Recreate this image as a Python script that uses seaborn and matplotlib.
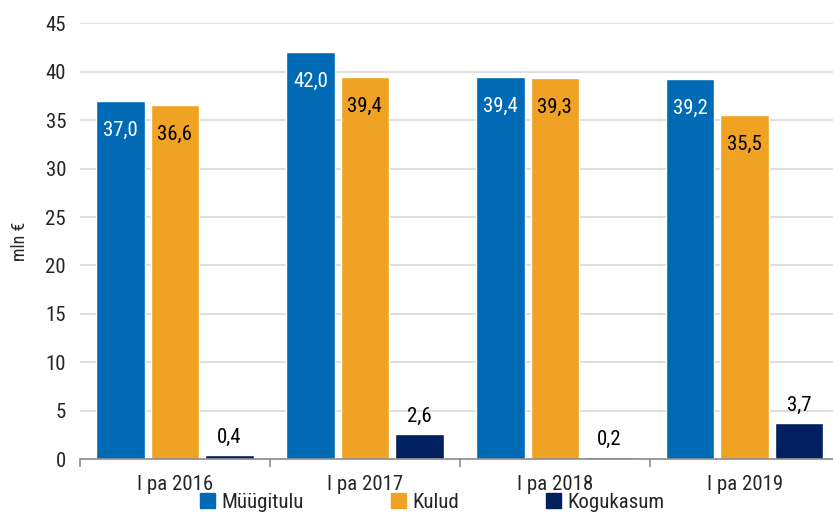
import matplotlib
matplotlib.use("Agg")
import matplotlib.pyplot as plt
import seaborn as sns
import pandas as pd
from matplotlib.ticker import FixedLocator

periods = ["I pa 2016", "I pa 2017", "I pa 2018", "I pa 2019"]
series_names = ["Müügitulu", "Kulud", "Kogukasum"]
muugitulu = [37.0, 42.0, 39.4, 39.2]
kulud = [36.6, 39.4, 39.3, 35.5]
kogukasum = [0.4, 2.6, 0.2, 3.7]
colors = ["#006AB4", "#F0A323", "#002060"]

df = pd.DataFrame({
    "period": periods * 3,
    "series": [s for s in series_names for _ in periods],
    "value": muugitulu + kulud + kogukasum,
})

sns.set_theme(style="white")
plt.rcParams["font.family"] = ["Roboto Condensed", "Liberation Sans Narrow", "Roboto", "DejaVu Sans"]

fig = plt.figure(figsize=(8.33, 5.16), dpi=100)
ax = fig.add_axes([0.096, 0.110, 0.912, 0.845])

sns.barplot(data=df, x="period", y="value", hue="series", order=periods,
            hue_order=series_names, palette=colors, width=0.86, gap=0.11,
            saturation=1, errorbar=None, ax=ax, legend=True)

ax.set_ylim(0, 45)
ax.set_yticks(range(0, 50, 5))
ax.set_xlim(-0.5, len(periods) - 0.5)
ax.yaxis.grid(True, color="#d9d9d9", linewidth=1.2)
ax.set_axisbelow(True)
for side in ["top", "right", "left"]:
    ax.spines[side].set_visible(False)
ax.spines["bottom"].set_color("#8c8c8c")
ax.spines["bottom"].set_linewidth(1.2)

# category labels at centres, small separator ticks between groups
ax.xaxis.set_major_locator(FixedLocator([i - 0.5 for i in range(len(periods) + 1)]))
ax.set_xticklabels([])
ax.xaxis.set_minor_locator(FixedLocator(list(range(len(periods)))))
ax.set_xticklabels(periods, minor=True)
ax.tick_params(axis="x", which="major", bottom=True, length=6, width=1.2, color="#8c8c8c")
ax.tick_params(axis="x", which="minor", bottom=True, length=0, labelsize=15, pad=11)
ax.tick_params(axis="y", length=0, labelsize=15, pad=10)
ax.set_xlabel("")
ax.set_ylabel("mln €", fontsize=13, labelpad=12)

# value labels
for cont, name in zip(ax.containers, series_names):
    labels = [f"{v:.1f}".replace(".", ",") for v in cont.datavalues]
    if name == "Müügitulu":
        ax.bar_label(cont, labels=labels, label_type="edge", padding=-28, color="white", fontsize=15)
    elif name == "Kulud":
        ax.bar_label(cont, labels=labels, label_type="edge", padding=-28, color="black", fontsize=15)
    else:
        ax.bar_label(cont, labels=labels, label_type="edge", padding=6, color="black", fontsize=15)

ax.legend_.remove()
handles = [plt.Rectangle((0, 0), 1, 1, color=c) for c in colors]
fig.legend(handles, series_names, loc="lower center", bbox_to_anchor=(0.519, -0.028), ncol=3,
           frameon=False, fontsize=15, handlelength=0.7, handleheight=0.7,
           handletextpad=0.3, columnspacing=4.2)

fig.savefig("out.png", dpi=100)
